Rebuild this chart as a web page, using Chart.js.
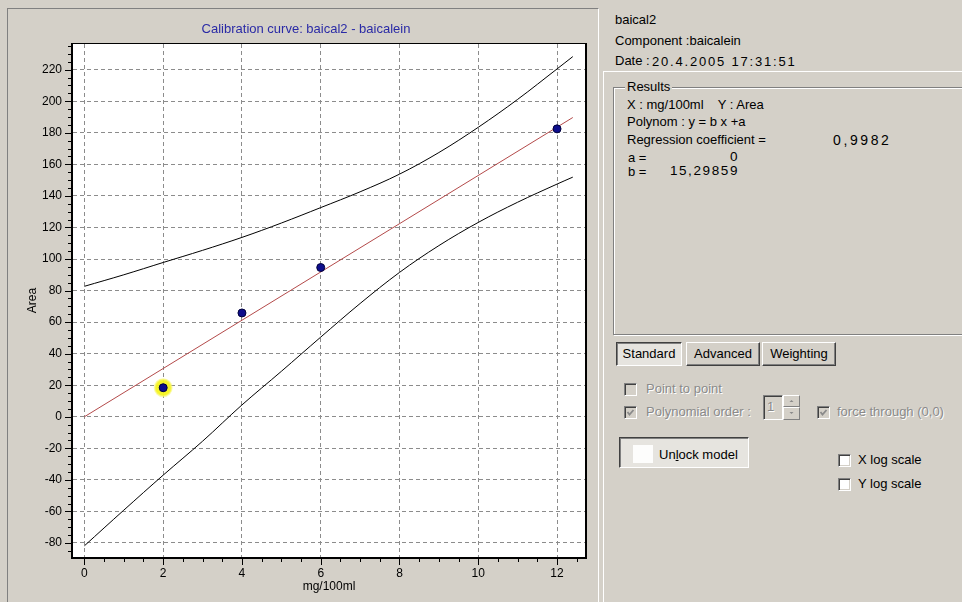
<!DOCTYPE html>
<html>
<head>
<meta charset="utf-8">
<script src="https://cdn.jsdelivr.net/npm/chart.js@4.4.0/dist/chart.umd.min.js"></script>
<style>
html,body{margin:0;padding:0;}
body{width:962px;height:602px;background:#d4d0c8;position:relative;overflow:hidden;font-family:"Liberation Sans",Arial,sans-serif;font-size:13px;color:#000;}
.a{position:absolute;white-space:nowrap;line-height:16px;height:16px;}
#leftPanel{position:absolute;left:7px;top:8px;width:590px;height:600px;border-left:1px solid #808080;border-top:1px solid #808080;border-right:1px solid #ffffff;}
#cv{position:absolute;left:8px;top:9px;}
#rightFrame{position:absolute;left:603px;top:71px;width:400px;height:600px;border-left:1px solid #fff;border-top:1px solid #fff;}
#group{position:absolute;left:613px;top:87px;width:400px;height:246px;border:1px solid #808080;box-shadow:inset 1px 1px 0 #fff,1px 1px 0 #fff;}
.gl{background:#d4d0c8;padding:0 2px;}
.num{font-size:13.5px;letter-spacing:1.6px;}
.btn{position:absolute;box-sizing:border-box;text-align:center;background:#d4d0c8;border-top:1px solid #fff;border-left:1px solid #fff;border-right:1px solid #404040;border-bottom:1px solid #404040;box-shadow:inset -1px -1px 0 #808080;line-height:21px;}
.btn.down{border-top:1px solid #404040;border-left:1px solid #404040;border-right:1px solid #fff;border-bottom:1px solid #fff;box-shadow:inset 1px 1px 0 #808080;background:#e6e4df;}
.cb{position:absolute;box-sizing:border-box;width:13px;height:13px;border-top:1px solid #808080;border-left:1px solid #808080;border-right:1px solid #fff;border-bottom:1px solid #fff;box-shadow:inset 1px 1px 0 #404040,inset -1px -1px 0 #d4d0c8;background:#fff;}
.cb.dis{background:#d4d0c8;}
.cb svg{position:absolute;left:1px;top:1px;}
.dis-t{color:#8a8a8a;text-shadow:1px 1px 0 #fff;}
.sunk{position:absolute;box-sizing:border-box;border-top:1px solid #808080;border-left:1px solid #808080;border-right:1px solid #fff;border-bottom:1px solid #fff;box-shadow:inset 1px 1px 0 #404040;background:#d4d0c8;}
.spin{position:absolute;box-sizing:border-box;background:#d4d0c8;border-top:1px solid #fff;border-left:1px solid #fff;border-right:1px solid #808080;border-bottom:1px solid #808080;}
</style>
</head>
<body>
<div id="leftPanel"></div>
<canvas id="cv" width="590" height="591" style="width:590px;height:591px"></canvas>

<div class="a" style="left:615px;top:12px;">baical2</div>
<div class="a" style="left:615px;top:33px;">Component :baicalein</div>
<div class="a" style="left:615px;top:53px;">Date :</div>
<div class="a num" style="left:652px;top:54px;letter-spacing:1.8px;font-size:13px;">20.4.2005 17:31:51</div>

<div id="rightFrame"></div>
<div id="group"></div>
<div class="a gl" style="left:625px;top:79px;">Results</div>
<div class="a" style="left:627px;top:97px;">X : mg/100ml&nbsp;&nbsp;&nbsp; Y : Area</div>
<div class="a" style="left:627px;top:114px;">Polynom : y = b x +a</div>
<div class="a" style="left:627px;top:132px;">Regression coefficient =</div>
<div class="a num" style="left:833px;top:132px;letter-spacing:2.6px;font-size:14px;">0,9982</div>
<div class="a" style="left:628px;top:150px;">a =</div>
<div class="a num" style="left:600px;width:139px;text-align:right;top:149px;">0</div>
<div class="a" style="left:628px;top:164px;">b =</div>
<div class="a num" style="left:600px;width:139px;text-align:right;top:163px;">15,29859</div>

<div class="btn down" style="left:616px;top:342px;width:66px;height:24px;">Standard</div>
<div class="btn" style="left:686px;top:342px;width:74px;height:24px;">Advanced</div>
<div class="btn" style="left:762px;top:342px;width:74px;height:24px;">Weighting</div>

<div class="cb dis" style="left:624px;top:383px;"></div>
<div class="a dis-t" style="left:646px;top:381px;">Point to point</div>
<div class="cb dis" style="left:624px;top:406px;"><svg width="9" height="9"><polyline points="1.5,4 3.5,6.5 7.5,2" fill="none" stroke="#8a8a8a" stroke-width="1.8"/></svg></div>
<div class="a dis-t" style="left:646px;top:404px;">Polynomial order :</div>
<div class="sunk" style="left:763px;top:395px;width:20px;height:25px;"></div>
<div class="a dis-t" style="left:767px;top:399px;">1</div>
<div class="spin" style="left:783px;top:395px;width:17px;height:12px;"><svg width="15" height="10" style="position:absolute;left:0;top:0"><polygon points="5.5,6 9.5,6 7.5,4" fill="#8a8a8a"/></svg></div>
<div class="spin" style="left:783px;top:407px;width:17px;height:13px;"><svg width="15" height="11" style="position:absolute;left:0;top:0"><polygon points="5.5,4 9.5,4 7.5,6" fill="#8a8a8a"/></svg></div>
<div class="cb dis" style="left:817px;top:406px;"><svg width="9" height="9"><polyline points="1.5,4 3.5,6.5 7.5,2" fill="none" stroke="#8a8a8a" stroke-width="1.8"/></svg></div>
<div class="a dis-t" style="left:837px;top:404px;">force through (0,0)</div>

<div class="btn down" style="left:619px;top:437px;width:130px;height:31px;line-height:28px;"></div>
<div style="position:absolute;left:633px;top:445px;width:20px;height:18px;background:#fdfdfc;"></div>
<div class="a" style="left:659px;top:447px;">Un<span style="text-decoration:underline">l</span>ock model</div>

<div class="cb" style="left:838px;top:454px;"></div>
<div class="a" style="left:858px;top:452px;">X log scale</div>
<div class="cb" style="left:838px;top:478px;"></div>
<div class="a" style="left:858px;top:476px;">Y log scale</div>

<script>
// ---- data ----
const bandX      = [0, 1, 2, 3, 4, 5, 6, 7, 8, 9, 10, 11, 12, 12.4];
const upperBand  = [82.7, 90, 97.8, 105.5, 113.7, 122.8, 132.6, 142.6, 153.8, 167.5, 183.5, 201.2, 220.5, 228.3];
const lowerBand  = [-81.8, -59.2, -37, -15.5, 7.5, 28.8, 50.5, 71.8, 91.5, 108.5, 123.2, 136, 147.5, 151.9];
const fitX       = [0, 12.4];
const fitY       = [0, 189.7];
const pointsX    = [2, 4, 6, 12];
const pointsY    = [18.4, 65.8, 94.6, 182.5];
const selectedPoint = 0;
const xTickValues = [0, 2, 4, 6, 8, 10, 12];
const yTickValues = [-80, -60, -40, -20, 0, 20, 40, 60, 80, 100, 120, 140, 160, 180, 200, 220];
const xRange = [-0.29, 12.71];
const yRange = [-88.9, 236.3];
const xMinorStep = 0.5, xMajorStep = 2;
const yMinorStep = 5, yMajorStep = 20;
const chartTitle = 'Calibration curve: baical2 - baicalein';
const xTitle = 'mg/100ml';
const yTitle = 'Area';

const FONT = '"Liberation Sans", Arial, sans-serif';
const toXY = (xs, ys) => xs.map((x, i) => ({x: x, y: ys[i]}));

const framePlugin = {
  id: 'framePlugin',
  beforeDraw(chart) {
    const {ctx, chartArea: a} = chart;
    ctx.save();
    ctx.fillStyle = '#ffffff';
    ctx.fillRect(a.left, a.top, a.right - a.left, a.bottom - a.top);
    ctx.restore();
  },
  afterDraw(chart) {
    const {ctx, chartArea: a, scales: {x, y}} = chart;
    ctx.save();
    ctx.strokeStyle = '#000';
    ctx.lineWidth = 1;
    ctx.beginPath();
    for (let k = Math.ceil(y.min / yMinorStep); k * yMinorStep <= y.max; k++) {
      const v = k * yMinorStep;
      const major = Math.abs(v % yMajorStep) < 1e-9;
      const py = Math.round(y.getPixelForValue(v)) + 0.5;
      ctx.moveTo(a.left - 2 - (major ? 6 : 3), py);
      ctx.lineTo(a.left - 2, py);
    }
    for (let k = Math.ceil(x.min / xMinorStep); k * xMinorStep <= x.max; k++) {
      const v = k * xMinorStep;
      const major = Math.abs(v % xMajorStep) < 1e-9;
      const px = Math.round(x.getPixelForValue(v)) + 0.5;
      ctx.moveTo(px, a.bottom + 2);
      ctx.lineTo(px, a.bottom + 2 + (major ? 6 : 3));
    }
    ctx.stroke();
    ctx.fillStyle = '#000';
    const w = a.right - a.left, h = a.bottom - a.top;
    ctx.fillRect(a.left - 2, a.top - 1, w + 4, 1);
    ctx.fillRect(a.left - 2, a.top - 1, 2, h + 3);
    ctx.fillRect(a.left - 2, a.bottom, w + 4, 2);
    ctx.fillRect(a.right, a.top - 1, 2, h + 3);
    ctx.restore();
  }
};

new Chart(document.getElementById('cv'), {
  type: 'scatter',
  data: {
    datasets: [
      {
        label: 'Standards',
        data: toXY(pointsX, pointsY),
        pointRadius: 4,
        pointBackgroundColor: '#0d0d8c',
        pointBorderColor: '#00003c',
        pointBorderWidth: 1,
        showLine: false
      },
      {
        label: 'Selected',
        data: [{x: pointsX[selectedPoint], y: pointsY[selectedPoint]}],
        pointRadius: 8.5,
        pointBackgroundColor: 'rgba(246,244,30,0.95)',
        pointBorderColor: 'rgba(248,246,120,0.6)',
        pointBorderWidth: 2,
        showLine: false
      },
      {
        label: 'Fit',
        data: toXY(fitX, fitY),
        showLine: true,
        borderColor: '#b44a4a',
        borderWidth: 1,
        pointRadius: 0
      },
      {
        label: 'Upper',
        data: toXY(bandX, upperBand),
        showLine: true,
        borderColor: '#000',
        borderWidth: 1,
        pointRadius: 0,
        tension: 0.35
      },
      {
        label: 'Lower',
        data: toXY(bandX, lowerBand),
        showLine: true,
        borderColor: '#000',
        borderWidth: 1,
        pointRadius: 0,
        tension: 0.35
      }
    ]
  },
  options: {
    responsive: false,
    animation: false,
    devicePixelRatio: 1,
    layout: {padding: {left: 19, right: 13, top: 0, bottom: 0}},
    plugins: {
      legend: {display: false},
      tooltip: {enabled: false},
      title: {
        display: true,
        text: chartTitle,
        color: '#2a2aa6',
        font: {family: FONT, size: 13, weight: 'normal'},
        padding: {top: 12.2, bottom: 7.2}
      }
    },
    scales: {
      x: {
        type: 'linear',
        min: xRange[0],
        max: xRange[1],
        afterFit: s => { s.height = 43; },
        afterBuildTicks: s => { s.ticks = xTickValues.map(v => ({value: v})); },
        grid: {color: '#8c8c8c', lineWidth: 1, drawTicks: false},
        border: {display: false, dash: [4, 3]},
        ticks: {color: '#000', font: {family: FONT, size: 12}, padding: 9, maxRotation: 0, autoSkip: false, callback: v => String(v)},
        title: {display: true, text: xTitle, color: '#000', font: {family: FONT, size: 12}, padding: {top: 0, bottom: 5.8}}
      },
      y: {
        type: 'linear',
        min: yRange[0],
        max: yRange[1],
        afterFit: s => { s.width = 46; },
        afterBuildTicks: s => { s.ticks = yTickValues.map(v => ({value: v})); },
        grid: {color: '#8c8c8c', lineWidth: 1, drawTicks: false},
        border: {display: false, dash: [4, 3]},
        ticks: {color: '#000', font: {family: FONT, size: 12}, padding: 11, autoSkip: false, callback: v => String(v)},
        title: {display: true, text: yTitle, color: '#000', font: {family: FONT, size: 12, lineHeight: 1}, padding: {top: 0, bottom: 0}}
      }
    }
  },
  plugins: [framePlugin]
});
</script>
</body>
</html>
